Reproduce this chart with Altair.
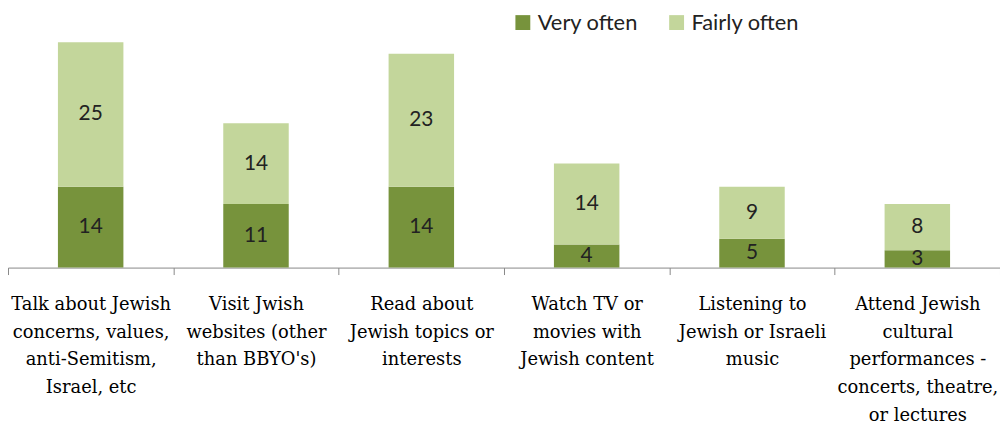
import altair as alt
import pandas as pd

categories = [
    "Talk about Jewish|concerns, values,|anti-Semitism,|Israel, etc",
    "Visit Jwish|websites (other|than BBYO's)",
    "Read about|Jewish topics or|interests",
    "Watch TV or|movies with|Jewish content",
    "Listening to|Jewish or Israeli|music",
    "Attend Jewish|cultural|performances -|concerts, theatre,|or lectures",
]
very_often = [14, 11, 14, 4, 5, 3]
fairly_often = [25, 14, 23, 14, 9, 8]
series = ["Very often", "Fairly often"]
colors = ["#77933C", "#C3D69B"]

rows = []
for c, v, f in zip(categories, very_often, fairly_often):
    rows.append({"cat": c, "series": "Very often", "order": 0, "value": v,
                 "y0": 0, "y1": v, "mid": v / 2})
    rows.append({"cat": c, "series": "Fairly often", "order": 1, "value": f,
                 "y0": v, "y1": v + f, "mid": v + f / 2})
df = pd.DataFrame(rows)

x = alt.X("cat:N", sort=categories,
          scale=alt.Scale(paddingInner=0, paddingOuter=0),
          axis=alt.Axis(title=None, labelAngle=0, labelExpr="split(datum.label, '|')",
                        labelFont="DejaVu Serif", labelFontSize=18, labelColor="#000",
                        labelLineHeight=28, labelPadding=21, labelLimit=0,
                        tickBand="extent", tickSize=7, tickColor="#888",
                        domainColor="#888", labelBaseline="top"))
yscale = alt.Scale(domain=[0, 39.5])

bars = alt.Chart(df).mark_bar(width=66).encode(
    x=x,
    y=alt.Y("y0:Q", scale=yscale, axis=None),
    y2="y1:Q",
    color=alt.Color("series:N", sort=series,
                    scale=alt.Scale(domain=series, range=colors),
                    legend=alt.Legend(title=None, orient="none", direction="horizontal",
                                      legendX=508, legendY=-28, symbolType="square",
                                      symbolSize=225, symbolStrokeWidth=0,
                                      labelFont="Lato", labelFontSize=22,
                                      labelColor="#222", columnPadding=28,
                                      symbolOpacity=1)),
)

texts = alt.Chart(df).mark_text(font="Lato", fontSize=21, color="#222", baseline="middle").encode(
    x=alt.X("cat:N", sort=categories),
    y=alt.Y("mid:Q", scale=yscale),
    text="value:Q",
)

chart = alt.layer(bars, texts).properties(
    width=1000, height=230,
    autosize=alt.AutoSizeParams(type="none"),
    padding={"left": 0, "top": 30, "right": 0, "bottom": 158},
).configure_view(stroke=None).configure_axis(grid=False)

chart.save("out.html", embed_options={"renderer": "svg", "actions": False})
